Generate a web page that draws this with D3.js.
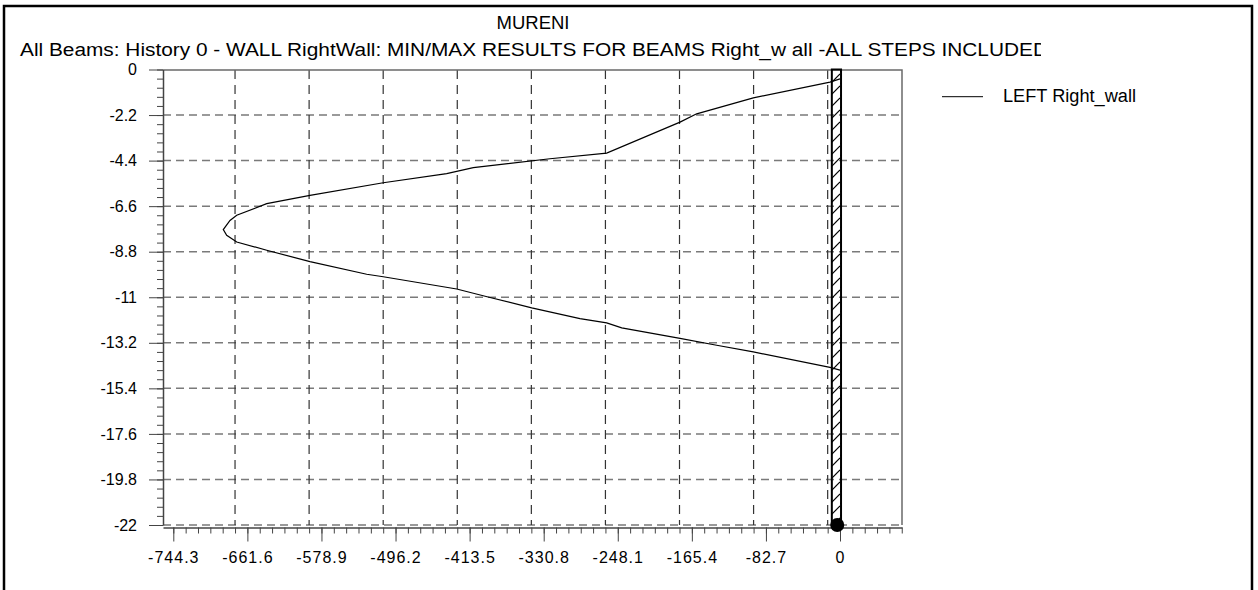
<!DOCTYPE html>
<html>
<head>
<meta charset="utf-8">
<script src="https://cdn.jsdelivr.net/npm/d3@7"></script>
<style>
  body { margin: 0; background: #fff; }
  svg { display: block; font-family: "Liberation Sans", Arial, sans-serif; }
</style>
</head>
<body>
<svg id="chart" width="1258" height="590"></svg>
<script>
// valori (profondita' / momento)
const depth = [-0.45, -0.61, -1.37, -2.14, -2.54, -4.04, -4.31, -4.74, -5.03, -5.47, -6.08, -6.48, -7.04, -7.29, -7.73,
  -8.01, -8.33, -8.73, -9.28, -9.89, -10.01, -10.6, -11.01, -11.51, -12.03, -12.24, -12.48, -12.99, -13.32, -13.64, -14.39, -14.52];
const moment = [0, -11.2, -96.8, -160, -178.6, -260.5, -323.8, -409.4, -439.1, -509.9, -591.7, -640, -673.5, -681, -688.5,
  -684.7, -673.5, -640, -591.7, -528.4, -509.9, -427.9, -390.7, -344.2, -290.3, -260.5, -243.7, -178.6, -137.7, -96.8, -11.2, 0];

const xTickLabels = ["-744.3", "-661.6", "-578.9", "-496.2", "-413.5", "-330.8", "-248.1", "-165.4", "-82.7", "0"];
const yTickLabels = ["0", "-2.2", "-4.4", "-6.6", "-8.8", "-11", "-13.2", "-15.4", "-17.6", "-19.8", "-22"];

const title = "MURENI";
const subtitle = "All Beams: History 0 - WALL RightWall: MIN/MAX RESULTS FOR BEAMS Right_w all -ALL STEPS INCLUDED";
const legendLabel = "LEFT Right_wall";
const wallPos = -4;

const svg = d3.select("#chart");

const x = d3.scaleLinear().domain([-755.8, 69.2]).range([163, 902]);
const y = d3.scaleLinear().domain([0, -22]).range([69.5, 525]);

const xTicks = xTickLabels.map(Number);
const yTicks = yTickLabels.map(Number);
const xStep = 82.7, yStep = 2.2;

// cornice esterna
svg.append("path")
  .attr("d", "M4,590 V6 H1252 V590")
  .attr("fill", "none").attr("stroke", "#000").attr("stroke-width", 2.5);

// titoli
svg.append("text").attr("x", 533).attr("y", 29)
  .attr("text-anchor", "middle").attr("font-size", 18)
  .attr("textLength", 73).attr("lengthAdjust", "spacingAndGlyphs").text(title);

svg.append("clipPath").attr("id", "tclip")
  .append("rect").attr("x", 0).attr("y", 0).attr("width", 1041).attr("height", 70);

svg.append("text").attr("x", 20).attr("y", 56)
  .attr("clip-path", "url(#tclip)")
  .attr("font-size", 18)
  .attr("textLength", 1028).attr("lengthAdjust", "spacingAndGlyphs")
  .text(subtitle);

// griglia
const grid = svg.append("g");
yTicks.slice(1).forEach(v => {
  grid.append("line")
    .attr("x1", 163).attr("x2", 902).attr("y1", y(v)).attr("y2", y(v))
    .attr("stroke", "#7a7a7a").attr("stroke-width", 1.5).attr("stroke-dasharray", "8,5");
});
xTicks.map(v => v - xStep / 6).filter(v => v > x.domain()[0]).forEach(v => {
  grid.append("line")
    .attr("x1", x(v)).attr("x2", x(v)).attr("y1", 70).attr("y2", 525)
    .attr("stroke", "#333").attr("stroke-width", 1.2).attr("stroke-dasharray", "9,6");
});

// bordo superiore / destro
svg.append("path")
  .attr("d", `M163,70 H902 V525`)
  .attr("fill", "none").attr("stroke", "#6a6a6a").attr("stroke-width", 1.5);

// assi
const yMinor = d3.range(0, 50).map(i => -i * yStep / 5).filter(v => v >= -22);
svg.append("g").attr("transform", "translate(163,0)")
  .call(d3.axisLeft(y).tickValues(yMinor).tickSize(6).tickFormat(""))
  .call(g => g.select(".domain").remove())
  .call(g => g.selectAll("line").attr("stroke", "#444"));

svg.append("g").attr("transform", "translate(163,0)")
  .call(d3.axisLeft(y).tickValues(yTicks).tickSize(14).tickSizeOuter(0).tickPadding(12)
    .tickFormat((d, i) => yTickLabels[i]))
  .call(g => g.select(".domain").attr("stroke", "#444").attr("stroke-width", 1.5))
  .call(g => g.selectAll("line").attr("stroke", "#444"))
  .call(g => g.selectAll("text").attr("font-size", 16).attr("fill", "#000")
    .attr("font-family", "Liberation Sans, Arial, sans-serif"));

const xMinor = d3.range(-60, 10).map(i => i * xStep / 6).filter(v => v >= x.domain()[0] && v <= x.domain()[1]);
svg.append("g").attr("transform", "translate(0,527.5)")
  .call(d3.axisBottom(x).tickValues(xMinor).tickSize(6).tickFormat(""))
  .call(g => g.select(".domain").remove())
  .call(g => g.selectAll("line").attr("stroke", "#444"));

svg.append("g").attr("transform", "translate(0,527.5)")
  .call(d3.axisBottom(x).tickValues(xTicks).tickSize(14).tickSizeOuter(0).tickPadding(10)
    .tickFormat((d, i) => xTickLabels[i]))
  .call(g => g.select(".domain").attr("stroke", "#444").attr("stroke-width", 1.5))
  .call(g => g.selectAll("line").attr("stroke", "#444"))
  .call(g => g.selectAll("text").attr("font-size", 16).attr("fill", "#000")
    .attr("letter-spacing", 1).attr("font-family", "Liberation Sans, Arial, sans-serif"));

// muro tratteggiato
const pat = svg.append("defs").append("pattern")
  .attr("id", "hatch").attr("patternUnits", "userSpaceOnUse")
  .attr("width", 10).attr("height", 12);
pat.append("path").attr("d", "M0,12 L10,2").attr("stroke", "#000").attr("stroke-width", 1.2);

svg.append("rect")
  .attr("x", x(wallPos) - 4.6).attr("y", y(0))
  .attr("width", 9.2).attr("height", y(-22) - y(0))
  .attr("fill", "url(#hatch)").attr("stroke", "#000").attr("stroke-width", 2);

// curva
const line = d3.line().x(d => x(d[1])).y(d => y(d[0]));
svg.append("path")
  .datum(depth.map((d, i) => [d, moment[i]]))
  .attr("d", line)
  .attr("fill", "none").attr("stroke", "#000").attr("stroke-width", 1.2);

svg.append("circle")
  .attr("cx", x(wallPos) + 0.8).attr("cy", y(-22)).attr("r", 7).attr("fill", "#000");

// legenda
svg.append("line").attr("x1", 942).attr("x2", 983).attr("y1", 96.7).attr("y2", 96.7)
  .attr("stroke", "#000").attr("stroke-width", 1);
svg.append("text").attr("x", 1003).attr("y", 102).attr("font-size", 18)
  .attr("textLength", 133).attr("lengthAdjust", "spacingAndGlyphs").text(legendLabel);
</script>
</body>
</html>
